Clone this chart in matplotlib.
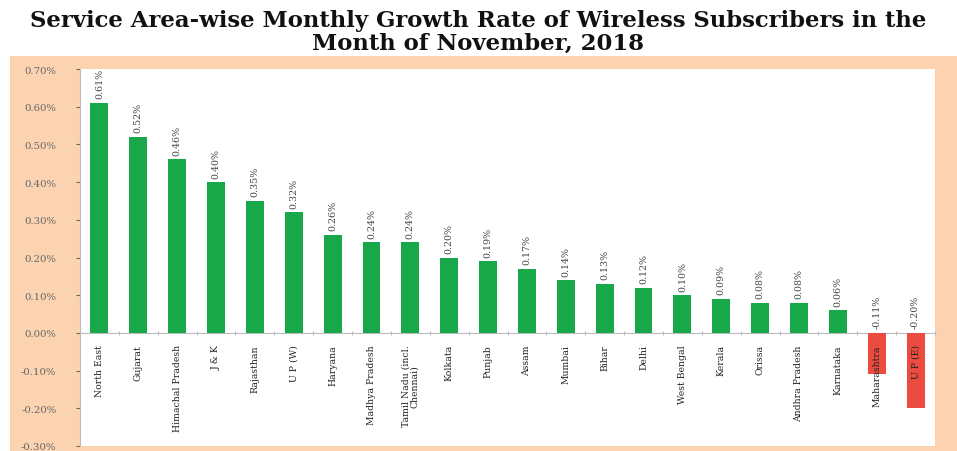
import matplotlib
matplotlib.use("Agg")
import matplotlib.pyplot as plt
from matplotlib.patches import Rectangle
from matplotlib.ticker import FuncFormatter, FixedLocator

categories = ["North East", "Gujarat", "Himachal Pradesh", "J & K", "Rajasthan", "U P (W)",
              "Haryana", "Madhya Pradesh", "Tamil Nadu (incl.\nChennai)", "Kolkata", "Punjab",
              "Assam", "Mumbai", "Bihar", "Delhi", "West Bengal", "Kerala", "Orissa",
              "Andhra Pradesh", "Karnataka", "Maharashtra", "U P (E)"]
values = [0.61, 0.52, 0.46, 0.40, 0.35, 0.32, 0.26, 0.24, 0.24, 0.20, 0.19, 0.17, 0.14,
          0.13, 0.12, 0.10, 0.09, 0.08, 0.08, 0.06, -0.11, -0.20]
yticks = [-0.30, -0.20, -0.10, 0.00, 0.10, 0.20, 0.30, 0.40, 0.50, 0.60, 0.70]

peach = "#FBD3B0"
green = "#19A849"
red = "#EC4B3F"

fig = plt.figure(figsize=(9.57, 4.52), dpi=100)
fig.patch.set_facecolor("white")
frame = Rectangle((10/957, 0), 1 - 10/957, (452-57)/452, transform=fig.transFigure,
                  facecolor=peach, edgecolor="none", zorder=-5)
fig.add_artist(frame)

ax = fig.add_axes([80/957, 5/452, (935-80)/957, (447-70)/452])
ax.set_zorder(2)
ax.set_facecolor("white")
x = list(range(len(categories)))
colors = [green if v >= 0 else red for v in values]
ax.bar(x, values, width=0.46, color=colors, edgecolor="none", zorder=3)

ax.set_ylim(-0.30, 0.70)
ax.set_xlim(-0.5, len(categories) - 0.5)
ax.set_yticks(yticks)
ax.yaxis.set_major_formatter(FuncFormatter(lambda v, p: f"{v:.2f}%"))
ax.tick_params(axis="y", labelsize=7.3, colors="#666666", length=3, pad=14)
for t in ax.get_yticklabels():
    t.set_family("DejaVu Serif")

for s in ["top", "right"]:
    ax.spines[s].set_visible(False)
ax.spines["left"].set_color("#BBBBBB")
ax.spines["bottom"].set_position(("data", 0))
ax.spines["bottom"].set_color("#BBBBBB")
ax.xaxis.set_major_locator(FixedLocator([i + 0.5 for i in range(-1, len(categories))]))
ax.tick_params(axis="x", labelbottom=False, length=3, direction="inout", colors="#BBBBBB")

for i, (c, v) in enumerate(zip(categories, values)):
    ax.text(i, -0.03, c, rotation=90, ha="center", va="top", fontsize=6.7,
            family="DejaVu Serif", color="#222222", zorder=4, linespacing=1.0)
    ax.text(i, max(v, 0) + 0.012, f"{v:.2f}%", rotation=90, ha="center", va="bottom",
            fontsize=6.8, family="DejaVu Serif", color="#444444", zorder=4)

fig.text(0.5, 0.978, "Service Area-wise Monthly Growth Rate of Wireless Subscribers in the\nMonth of November, 2018",
         ha="center", va="top", fontsize=16.4, fontweight="bold", family="DejaVu Serif",
         color="#111111", linespacing=1.05)

fig.savefig("out.png", dpi=100)
